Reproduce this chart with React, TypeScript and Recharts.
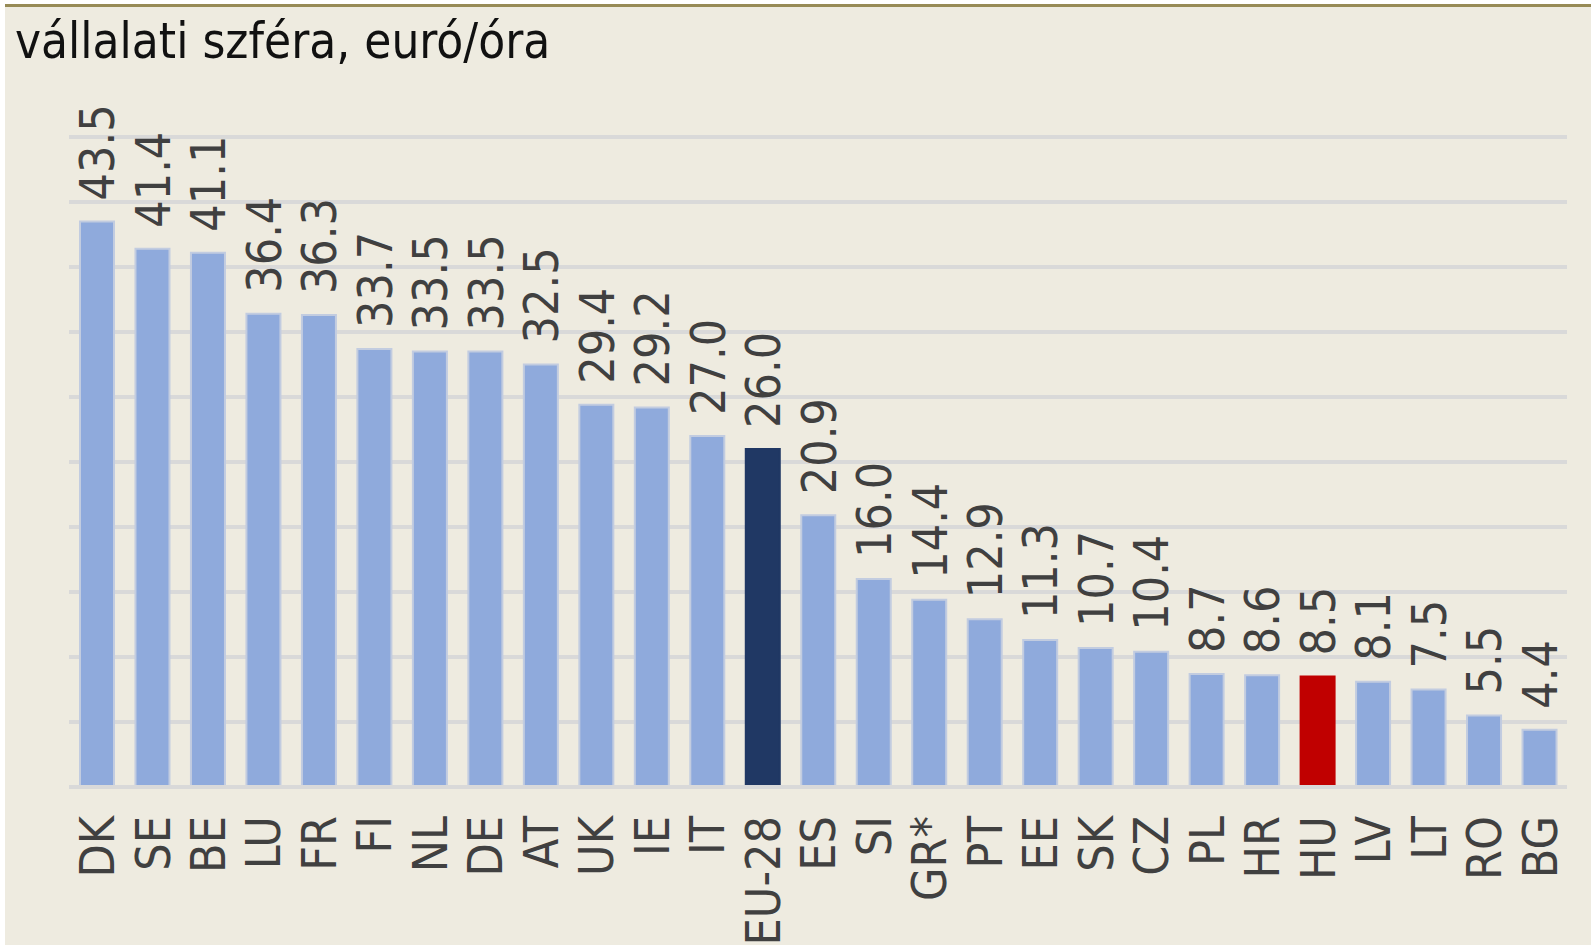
import React from 'react'
import { BarChart, Bar, XAxis, YAxis, CartesianGrid, Cell, LabelList } from 'recharts'

const countries = ['DK', 'SE', 'BE', 'LU', 'FR', 'FI', 'NL', 'DE', 'AT', 'UK', 'IE', 'IT', 'EU-28', 'ES', 'SI', 'GR*', 'PT', 'EE', 'SK', 'CZ', 'PL', 'HR', 'HU', 'LV', 'LT', 'RO', 'BG']
const costs = [43.5, 41.4, 41.1, 36.4, 36.3, 33.7, 33.5, 33.5, 32.5, 29.4, 29.2, 27.0, 26.0, 20.9, 16.0, 14.4, 12.9, 11.3, 10.7, 10.4, 8.7, 8.6, 8.5, 8.1, 7.5, 5.5, 4.4]
const yTicks = [0, 5, 10, 15, 20, 25, 30, 35, 40, 45, 50]

const FONT = '"DejaVu Sans Condensed", "DejaVu Sans", sans-serif'

const barColor = (name: string) => {
  if (name === 'EU-28') return '#203864'
  if (name === 'HU') return '#C00000'
  return '#8FAADC'
}

const chartData = countries.map((name, i) => ({ name, value: costs[i] }))

const CountryTick = ({ x, y, payload }: any) => (
  <text
    transform={`translate(${x},${y + 29}) rotate(-90)`}
    textAnchor="end"
    dy="0.36em"
    fontFamily={FONT}
    fontStretch="condensed"
    fontSize={48}
    fill="#404040"
  >
    {payload.value}
  </text>
)

const ValueLabel = ({ x, y, width, value }: any) => (
  <text
    transform={`translate(${x + width / 2},${y - 21}) rotate(-90)`}
    textAnchor="start"
    dy="0.36em"
    fontFamily={FONT}
    fontStretch="condensed"
    fontSize={48}
    fill="#404040"
  >
    {Number(value).toFixed(1)}
  </text>
)

export default function App() {
  return (
    <div style={{ position: 'absolute', left: 0, top: 0, width: 1591, height: 945, background: '#fff' }}>
      <div
        style={{
          position: 'absolute',
          left: 5,
          top: 4,
          right: 0,
          bottom: 0,
          background: '#EEEBE0',
          borderTop: '3px solid #978B56',
        }}
      />
      <div
        style={{
          position: 'absolute',
          left: 15,
          top: 12,
          fontFamily: FONT,
          fontStretch: 'condensed',
          fontSize: 49,
          color: '#111',
          lineHeight: '60px',
          whiteSpace: 'nowrap',
        }}
      >
        vállalati szféra, euró/óra
      </div>
      <div style={{ position: 'absolute', left: 0, top: 0 }}>
        <BarChart
          width={1591}
          height={945}
          data={chartData}
          margin={{ top: 137, right: 24, bottom: 28, left: 69 }}
          barSize={34}
        >
          <CartesianGrid vertical={false} stroke="#D9D9D9" strokeWidth={4} />
          <YAxis hide domain={[0, 50]} ticks={yTicks} />
          <XAxis
            dataKey="name"
            interval={0}
            height={130}
            tickLine={false}
            tickSize={0}
            tickMargin={0}
            axisLine={{ stroke: '#D9D9D9', strokeWidth: 4 }}
            tick={<CountryTick />}
          />
          <Bar dataKey="value" isAnimationActive={false}>
            {chartData.map(d => (
              <Cell
                key={d.name}
                fill={barColor(d.name)}
                stroke={d.name === 'EU-28' || d.name === 'HU' ? barColor(d.name) : '#C2CCE0'}
                strokeWidth={2}
              />
            ))}
            <LabelList dataKey="value" content={<ValueLabel />} />
          </Bar>
        </BarChart>
      </div>
    </div>
  )
}
